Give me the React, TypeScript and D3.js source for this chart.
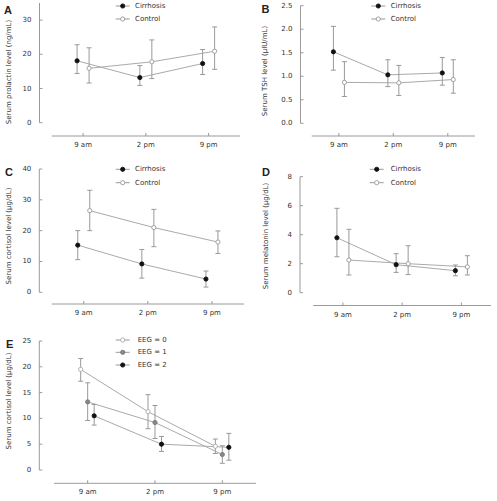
import React from "react";
import * as d3 from "d3";

const times = ["9 am", "2 pm", "9 pm"];

// Panel A: prolactin (ng/mL)
const aCirrMean = [18.1, 13.2, 17.3];
const aCirrLow = [14.4, 10.9, 14.1];
const aCirrHigh = [22.8, 16.7, 21.4];
const aCtrlMean = [15.9, 17.8, 20.9];
const aCtrlLow = [11.6, 12.9, 15.6];
const aCtrlHigh = [21.9, 24.2, 28.0];
const aTicks = [0, 10, 20, 30];

// Panel B: TSH (µIU/mL)
const bCirrMean = [1.52, 1.03, 1.07];
const bCirrLow = [1.13, 0.78, 0.81];
const bCirrHigh = [2.06, 1.35, 1.4];
const bCtrlMean = [0.87, 0.86, 0.93];
const bCtrlLow = [0.57, 0.59, 0.64];
const bCtrlHigh = [1.31, 1.23, 1.35];
const bTicks = [0, 0.5, 1, 1.5, 2, 2.5];

// Panel C: cortisol (µg/dL)
const cCirrMean = [15.3, 9.2, 4.3];
const cCirrLow = [10.6, 4.6, 1.7];
const cCirrHigh = [20.0, 13.9, 6.9];
const cCtrlMean = [26.5, 21.0, 16.3];
const cCtrlLow = [20.0, 14.8, 12.6];
const cCtrlHigh = [33.1, 26.9, 19.9];
const cTicks = [0, 10, 20, 30, 40];

// Panel D: melatonin (µg/dL)
const dCirrMean = [3.79, 1.93, 1.52];
const dCirrLow = [2.48, 1.4, 1.17];
const dCirrHigh = [5.82, 2.69, 1.91];
const dCtrlMean = [2.25, 2.0, 1.78];
const dCtrlLow = [1.22, 1.25, 1.22];
const dCtrlHigh = [4.37, 3.24, 2.55];
const dTicks = [0, 2, 4, 6, 8];

// Panel E: cortisol by EEG grade (µg/dL)
const e0Mean = [19.5, 11.3, 4.6];
const e0Low = [17.2, 8.0, 3.2];
const e0High = [21.6, 14.6, 6.0];
const e1Mean = [13.2, 9.2, 3.0];
const e1Low = [9.6, 6.1, 1.3];
const e1High = [16.9, 12.5, 4.7];
const e2Mean = [10.5, 5.0, 4.4];
const e2Low = [8.7, 3.6, 1.9];
const e2High = [12.7, 6.5, 7.1];
const eTicks = [0, 5, 10, 15, 20, 25];

const FONT = "DejaVu Sans";
const AX = "#9a9a9a";
const TXT = "#333";
const R = 2.1;

type Series = {
  name: string;
  mean: number[];
  low: number[];
  high: number[];
  fill: string;
  stroke: string;
  offset: number;
};

type PanelProps = {
  letter: string;
  letterX: number;
  letterY: number;
  title: string;
  titleX: number;
  titleY: number;
  yAxisX: number;
  yBottom: number;
  yTop: number;
  yMax: number;
  ticks: number[];
  tickFmt: (v: number) => string;
  xAxisY: number;
  xLeft: number;
  xRight: number;
  series: Series[];
  legendX: number;
  legendTextX: number;
  legendY: number[];
};

function Panel(p: PanelProps) {
  const y = d3.scaleLinear().domain([0, p.yMax]).range([p.yBottom, p.yTop]);
  const x = d3.scalePoint<string>().domain(times).range([p.xLeft, p.xRight]).padding(0.5);
  return (
    <g>
      <text x={p.letterX} y={p.letterY} fontFamily="Liberation Sans" fontWeight="bold" fontSize={11} fill="#222">
        {p.letter}
      </text>
      <text
        transform={`translate(${p.titleX},${p.titleY}) rotate(-90)`}
        textAnchor="middle"
        dominantBaseline="central"
        fontFamily={FONT}
        fontSize={7}
        fill={TXT}
      >
        {p.title}
      </text>
      {/* y axis */}
      <line x1={p.yAxisX} x2={p.yAxisX} y1={y(0)} y2={y(p.yMax)} stroke={AX} strokeWidth={1} />
      {p.ticks.map((t) => (
        <g key={t}>
          <line x1={p.yAxisX} x2={p.yAxisX + 3} y1={y(t)} y2={y(t)} stroke={AX} />
          <text
            x={p.yAxisX - 8}
            y={y(t)}
            textAnchor="end"
            dominantBaseline="central"
            fontFamily={FONT}
            fontSize={7}
            fill={TXT}
          >
            {p.tickFmt(t)}
          </text>
        </g>
      ))}
      {/* x axis */}
      <line x1={p.xLeft} x2={p.xRight} y1={p.xAxisY} y2={p.xAxisY} stroke={AX} />
      {times.map((t) => (
        <g key={t}>
          <line x1={x(t)} x2={x(t)} y1={p.xAxisY} y2={p.xAxisY - 3} stroke={AX} />
          <text
            x={x(t)}
            y={p.xAxisY + 9}
            textAnchor="middle"
            dominantBaseline="central"
            fontFamily={FONT}
            fontSize={7}
            fill={TXT}
          >
            {t}
          </text>
        </g>
      ))}
      {/* connecting lines */}
      {p.series.map((s) => (
        <path
          key={s.name + "l"}
          d={
            d3
              .line<number>()
              .x((_, i) => (x(times[i]) as number) + s.offset)
              .y((v) => y(v))(s.mean) || ""
          }
          fill="none"
          stroke="#aaa"
          strokeWidth={1}
        />
      ))}
      {/* error bars */}
      {p.series.map((s) =>
        s.mean.map((m, i) => {
          const cx = (x(times[i]) as number) + s.offset;
          return (
            <g key={s.name + "e" + i} stroke="#999" strokeWidth={1}>
              <line x1={cx} x2={cx} y1={y(s.low[i])} y2={y(s.high[i])} />
              <line x1={cx - 2.5} x2={cx + 2.5} y1={y(s.low[i])} y2={y(s.low[i])} />
              <line x1={cx - 2.5} x2={cx + 2.5} y1={y(s.high[i])} y2={y(s.high[i])} />
            </g>
          );
        })
      )}
      {/* markers */}
      {p.series.map((s) =>
        s.mean.map((m, i) => (
          <circle
            key={s.name + "m" + i}
            cx={(x(times[i]) as number) + s.offset}
            cy={y(m)}
            r={R}
            fill={s.fill}
            stroke={s.stroke}
            strokeWidth={0.9}
          />
        ))
      )}
      {/* legend */}
      {p.series.map((s, i) => (
        <g key={s.name + "lg"}>
          <line x1={p.legendX - 7} x2={p.legendX + 7} y1={p.legendY[i]} y2={p.legendY[i]} stroke="#999" />
          <circle cx={p.legendX} cy={p.legendY[i]} r={R} fill={s.fill} stroke={s.stroke} strokeWidth={0.9} />
          <text
            x={p.legendTextX}
            y={p.legendY[i]}
            dominantBaseline="central"
            fontFamily={FONT}
            fontSize={7}
            fill={TXT}
          >
            {s.name}
          </text>
        </g>
      ))}
    </g>
  );
}

const fmtInt = (v: number) => d3.format("d")(v);
const fmt1 = (v: number) => d3.format(".1f")(v);

function twoSeries(cm: number[], cl: number[], ch: number[], km: number[], kl: number[], kh: number[], off: number): Series[] {
  return [
    { name: "Cirrhosis", mean: cm, low: cl, high: ch, fill: "#111", stroke: "#111", offset: -off },
    { name: "Control", mean: km, low: kl, high: kh, fill: "#fff", stroke: "#999", offset: off },
  ];
}

export default function App() {
  const eSeries: Series[] = [
    { name: "EEG = 0", mean: e0Mean, low: e0Low, high: e0High, fill: "#fff", stroke: "#aaa", offset: -7 },
    { name: "EEG = 1", mean: e1Mean, low: e1Low, high: e1High, fill: "#888", stroke: "#777", offset: 0 },
    { name: "EEG = 2", mean: e2Mean, low: e2Low, high: e2High, fill: "#111", stroke: "#111", offset: 6.5 },
  ];
  return (
    <svg width={497} height={501} style={{ position: "absolute", left: 0, top: 0, background: "#fff" }}>
      <Panel
        letter="A" letterX={4} letterY={13.5}
        title="Serum prolactin level (ng/mL)" titleX={9} titleY={72}
        yAxisX={39.5} yBottom={122.7} yTop={3} yMax={35} ticks={aTicks} tickFmt={fmtInt}
        xAxisY={136} xLeft={51.7} xRight={240}
        series={twoSeries(aCirrMean, aCirrLow, aCirrHigh, aCtrlMean, aCtrlLow, aCtrlHigh, 6)}
        legendX={122.7} legendTextX={135} legendY={[6, 19]}
      />
      <Panel
        letter="B" letterX={261.5} letterY={12.5}
        title="Serum TSH level (µIU/mL)" titleX={265} titleY={71}
        yAxisX={300.5} yBottom={123.3} yTop={5.7} yMax={2.5} ticks={bTicks} tickFmt={fmt1}
        xAxisY={136} xLeft={311.7} xRight={475}
        series={twoSeries(bCirrMean, bCirrLow, bCirrHigh, bCtrlMean, bCtrlLow, bCtrlHigh, 5.5)}
        legendX={378.3} legendTextX={390.7} legendY={[6, 19]}
      />
      <Panel
        letter="C" letterX={5} letterY={175.5}
        title="Serum cortisol level (µg/dL)" titleX={9} titleY={236}
        yAxisX={39.3} yBottom={292.3} yTop={169} yMax={40} ticks={cTicks} tickFmt={fmtInt}
        xAxisY={304} xLeft={51.7} xRight={244}
        series={twoSeries(cCirrMean, cCirrLow, cCirrHigh, cCtrlMean, cCtrlLow, cCtrlHigh, 6)}
        legendX={122.7} legendTextX={135} legendY={[169.3, 182.7]}
      />
      <Panel
        letter="D" letterX={262} letterY={175.5}
        title="Serum melatonin level (µg/dL)" titleX={265.5} titleY={236}
        yAxisX={300} yBottom={292.7} yTop={176.7} yMax={8} ticks={dTicks} tickFmt={fmtInt}
        xAxisY={305.5} xLeft={313.3} xRight={491}
        series={twoSeries(dCirrMean, dCirrLow, dCirrHigh, dCtrlMean, dCtrlLow, dCtrlHigh, 6)}
        legendX={376.7} legendTextX={390.7} legendY={[169.3, 182.7]}
      />
      <Panel
        letter="E" letterX={6} letterY={347.5}
        title="Serum cortisol level (µg/dL)" titleX={9} titleY={401}
        yAxisX={39.3} yBottom={470} yTop={341} yMax={25} ticks={eTicks} tickFmt={fmtInt}
        xAxisY={483.3} xLeft={54} xRight={256}
        series={eSeries}
        legendX={122.7} legendTextX={137.7} legendY={[340, 352.3, 365]}
      />
    </svg>
  );
}
